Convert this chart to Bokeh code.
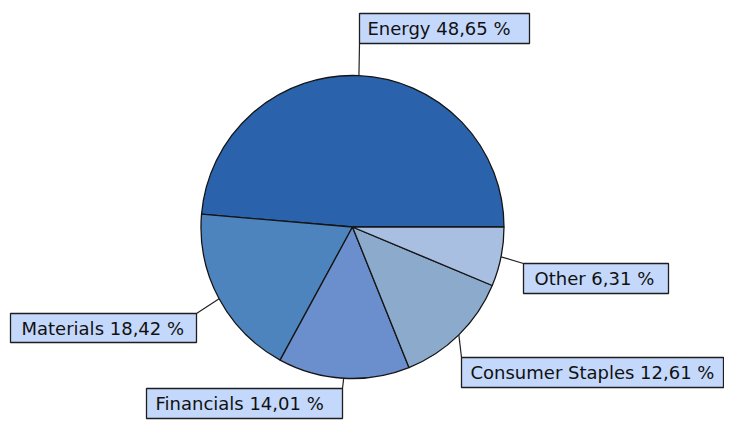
import numpy as np
from bokeh.plotting import figure
from bokeh.models import ColumnDataSource, Range1d
from bokeh.core.properties import value
from bokeh.embed import file_html
from bokeh.resources import INLINE

# ---- data ----
categories = ["Energy", "Materials", "Financials", "Consumer Staples", "Other"]
shares = [48.65, 18.42, 14.01, 12.61, 6.31]
colors = ["#2A62AC", "#4E84BE", "#6A8FCC", "#8CABCC", "#A8BFE1"]

# ---- layout (screen pixels) ----
W, H = 724, 420
CX, CY, R = 352.0, 226.5, 151.5
# label boxes: left, top, right, bottom ; anchor is corner where leader meets
box_left = [359, 10, 146, 461, 523]
box_top = [13, 313, 388, 357, 263]
box_right = [529, 196, 342, 723, 668]
box_bottom = [43, 342, 418, 387, 293]
anchor_x = [359, 196, 342, 461, 523]
anchor_y = [43, 313, 388, 357, 263]
text_pad = [8, 11, 9, 9, 11]

def fy(sy):
    return H - np.asarray(sy, dtype=float)

vals = np.array(shares, dtype=float)
frac = vals / vals.sum()
end = np.cumsum(frac) * 2 * np.pi
start = end - frac * 2 * np.pi
mid = (start + end) / 2

labels = [f"{c} {s:.2f} %".replace(".", ",") for c, s in zip(categories, shares)]

p = figure(width=W, height=H, output_backend="svg", toolbar_location=None,
           x_range=Range1d(0, W), y_range=Range1d(0, H),
           x_axis_location=None, y_axis_location=None, min_border=0,
           match_aspect=False)
p.grid.visible = False
p.outline_line_color = None
p.background_fill_color = "white"
p.border_fill_color = "white"

wsrc = ColumnDataSource(dict(start=start, end=end, color=colors, cat=categories))
p.wedge(x=CX, y=fy(CY), radius=R, start_angle="start", end_angle="end",
        fill_color="color", line_color="#151515", line_width=1.3, source=wsrc)

# leader lines from slice edge (mid-angle) to label box corner
ex = CX + R * np.cos(mid)
ey = fy(CY) + R * np.sin(mid)
p.segment(x0=ex, y0=ey, x1=anchor_x, y1=fy(anchor_y), line_color="#222222", line_width=1.2)

# label boxes
bsrc = ColumnDataSource(dict(left=box_left, right=box_right,
                             top=fy(box_top), bottom=fy(box_bottom)))
p.quad(left="left", right="right", top="top", bottom="bottom", source=bsrc,
       fill_color="#C4D8FB", line_color="#1E1E1E", line_width=1.3)

tx = np.array(box_left, dtype=float) + np.array(text_pad)
ty = (fy(box_top) + fy(box_bottom)) / 2
p.text(x=tx, y=ty, text=labels, text_font=value("DejaVu Sans"), text_font_size="18px",
       text_baseline="middle", text_align="left", text_color="#111111")

open("out.html", "w").write(file_html(p, INLINE))
